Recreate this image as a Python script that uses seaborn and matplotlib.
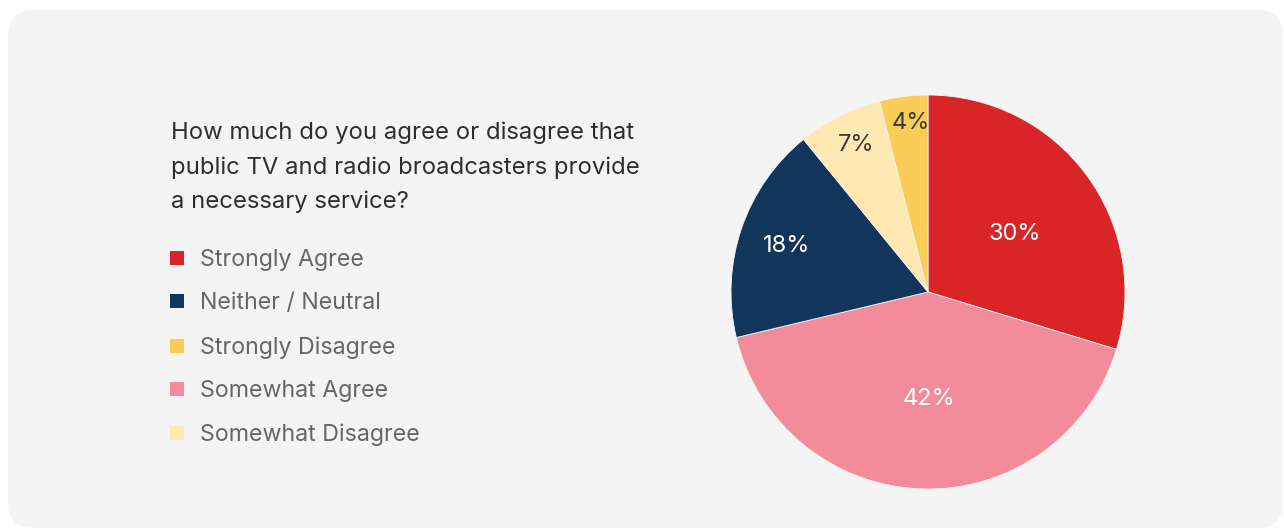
import matplotlib
matplotlib.use("Agg")
import matplotlib.pyplot as plt
from matplotlib.patches import FancyBboxPatch, Rectangle
import numpy as np
import seaborn as sns

# Survey responses, in slice order (clockwise from 12 o'clock)
categories = ["Strongly Agree", "Somewhat Agree", "Neither / Neutral",
              "Somewhat Disagree", "Strongly Disagree"]
values = [30, 42, 18, 7, 4]
slice_colors = ["#d92528", "#f28b9a", "#12355b", "#ffe8b2", "#f9cd58"]
label_colors = ["white", "white", "white", "#3a3a3a", "#3a3a3a"]

# Legend order as listed beside the question
legend_order = ["Strongly Agree", "Neither / Neutral", "Strongly Disagree",
                "Somewhat Agree", "Somewhat Disagree"]

title_lines = ["How much do you agree or disagree that",
               "public TV and radio broadcasters provide",
               "a necessary service?"]

sns.set_theme(style="white")
plt.rcParams["font.family"] = ["Inter", "DejaVu Sans"]

W, H = 1284, 529
fig = plt.figure(figsize=(W / 100, H / 100), dpi=100)
fig.patch.set_facecolor("white")


def fx(px):
    return px / W


def fy(py):
    return 1 - py / H


# Rounded card behind everything
card = FancyBboxPatch((fx(8), fy(528)), fx(1283) - fx(8), fy(10) - fy(528),
                      boxstyle="round,pad=0,rounding_size=0.02",
                      transform=fig.transFigure, facecolor="#f4f4f4",
                      edgecolor="none", mutation_aspect=W / H, zorder=-10)
fig.patches.append(card)

# Pie
cx, cy, r = 928, 292, 197
ax = fig.add_axes([fx(cx - r), fy(cy + r), fx(2 * r), (2 * r) / H])
ax.set_zorder(5)
ax.set_facecolor("none")
palette = sns.color_palette(slice_colors)
wedges, _ = ax.pie(values, colors=palette, startangle=90, counterclock=False,
                   radius=1, wedgeprops=dict(edgecolor="#f4f4f4", linewidth=0.6))
ax.set_xlim(-1, 1)
ax.set_ylim(-1, 1)
ax.set_aspect("equal")
ax.axis("off")

# Percentage labels at each wedge's mid-angle
label_radius = [0.52, 0.53, 0.78, 0.85, 0.88]
for w, v, lc, lr in zip(wedges, values, label_colors, label_radius):
    ang = np.deg2rad((w.theta1 + w.theta2) / 2)
    ax.text(lr * np.cos(ang) + 0.02, lr * np.sin(ang) - 0.015, f"{v}%",
            ha="center", va="center", color=lc, fontsize=17)

# Question text
for i, line in enumerate(title_lines):
    fig.text(fx(171), fy(133 + 34.5 * i), line, ha="left", va="center",
             fontsize=17.2, color="#2e2e2e")

# Legend
color_of = dict(zip(categories, slice_colors))
legend_y = [258, 301, 346, 389, 433]
for name, yy in zip(legend_order, legend_y):
    fig.patches.append(Rectangle((fx(170), fy(yy + 7)), fx(14), 14 / H,
                                 transform=fig.transFigure,
                                 facecolor=color_of[name], edgecolor="none"))
    fig.text(fx(200), fy(yy + 2), name, ha="left", va="center", fontsize=16.7,
             color="#666666")

fig.savefig("out.png", dpi=100, facecolor="white")
